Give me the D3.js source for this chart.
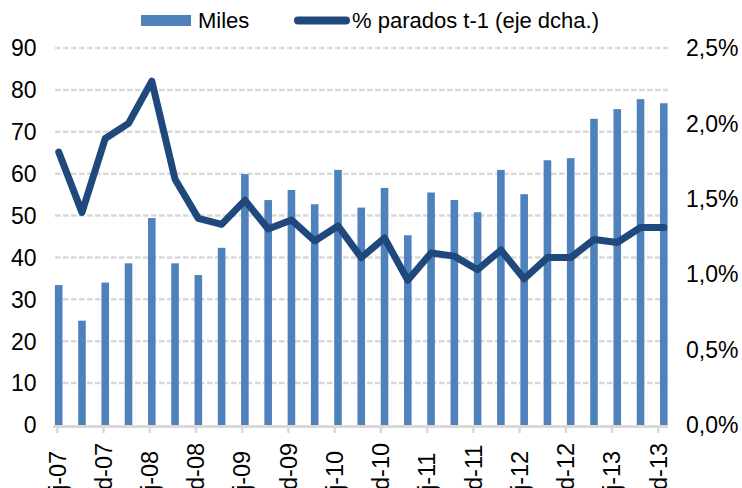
<!DOCTYPE html>
<html>
<head>
<meta charset="utf-8">
<script src="https://cdn.jsdelivr.net/npm/d3@7"></script>
<style>
  body { margin: 0; background: #fff; }
  svg text { font-family: "Liberation Sans", Arial, sans-serif; fill: #000; }
</style>
</head>
<body>
<div id="chart"></div>
<script>
var width = 742,
    height = 488;

// quarters, jun-07 .. dic-13
var quarters = ["jun-07", "sep-07", "dic-07", "mar-08", "jun-08", "sep-08", "dic-08",
    "mar-09", "jun-09", "sep-09", "dic-09", "mar-10", "jun-10", "sep-10", "dic-10",
    "mar-11", "jun-11", "sep-11", "dic-11", "mar-12", "jun-12", "sep-12", "dic-12",
    "mar-13", "jun-13", "sep-13", "dic-13"];

var miles = [33.4, 24.9, 34.0, 38.6, 49.4, 38.6, 35.8, 42.3, 59.9, 53.7, 56.1, 52.7,
    60.9, 51.9, 56.6, 45.3, 55.5, 53.7, 50.8, 60.9, 55.1, 63.2, 63.7, 73.1, 75.4, 77.8, 76.8];

// % parados t-1 (eje dcha.)
var parados = [1.81, 1.41, 1.90, 2.00, 2.28, 1.63, 1.37, 1.33, 1.49, 1.30, 1.36, 1.22,
    1.32, 1.11, 1.24, 0.96, 1.14, 1.12, 1.03, 1.16, 0.97, 1.11, 1.11, 1.23, 1.21, 1.31, 1.31];

var tickLabels = ["j-07", "d-07", "j-08", "d-08", "j-09", "d-09", "j-10", "d-10",
    "j-11", "d-11", "j-12", "d-12", "j-13", "d-13"];

var leftTicks = [0, 10, 20, 30, 40, 50, 60, 70, 80, 90];
var rightTicks = [0, 0.5, 1, 1.5, 2, 2.5];

var barColor = "#4f81bd",
    lineColor = "#1f497d",
    gridColor = "#d9d9d9";

var svg = d3.select("#chart").append("svg")
    .attr("width", width)
    .attr("height", height);

var x = d3.scalePoint().domain(quarters).range([58.7, 663.8]);
var xTick = d3.scalePoint().domain(tickLabels).range([57.3, 658.3]);
var y = d3.scaleLinear().domain([0, 90]).range([425, 48]);
var y2 = d3.scaleLinear().domain([0, 2.5]).range([425, 48]);

var es = d3.formatLocale({decimal: ",", thousands: ".", grouping: [3], currency: ["", " €"]});
var pct = es.format(".1f");

// gridlines
svg.append("g")
    .selectAll("line")
    .data(leftTicks.slice(1))
    .enter().append("line")
    .attr("x1", 55)
    .attr("x2", 668)
    .attr("y1", function(d) { return y(d); })
    .attr("y2", function(d) { return y(d); })
    .attr("stroke", gridColor)
    .attr("stroke-width", 2.5)
    .attr("stroke-dasharray", "5.5,2.5");

// bars
svg.append("g")
    .selectAll("rect")
    .data(miles)
    .enter().append("rect")
    .attr("x", function(d, i) { return x(quarters[i]) - 3.8; })
    .attr("width", 7.6)
    .attr("y", function(d) { return y(d); })
    .attr("height", function(d) { return y(0) - y(d); })
    .attr("fill", barColor);

// x axis line + ticks
svg.append("line")
    .attr("x1", 53).attr("x2", 668)
    .attr("y1", 426.5).attr("y2", 426.5)
    .attr("stroke", gridColor)
    .attr("stroke-width", 3);

svg.append("g")
    .selectAll("line")
    .data(tickLabels)
    .enter().append("line")
    .attr("x1", function(d) { return xTick(d); })
    .attr("x2", function(d) { return xTick(d); })
    .attr("y1", 426)
    .attr("y2", 433)
    .attr("stroke", gridColor)
    .attr("stroke-width", 2.5);

svg.append("g")
    .selectAll("text")
    .data(tickLabels)
    .enter().append("text")
    .attr("transform", function(d) { return "translate(" + xTick(d) + ",490) rotate(-90)"; })
    .attr("dy", "0.35em")
    .attr("text-anchor", "start")
    .style("font-size", "23.5px")
    .text(function(d) { return d; });

// line
var line = d3.line()
    .x(function(d, i) { return x(quarters[i]); })
    .y(function(d) { return y2(d); });

svg.append("path")
    .datum(parados)
    .attr("d", line)
    .attr("fill", "none")
    .attr("stroke", lineColor)
    .attr("stroke-width", 7)
    .attr("stroke-linejoin", "round")
    .attr("stroke-linecap", "round");

// left axis labels
svg.append("g")
    .selectAll("text")
    .data(leftTicks)
    .enter().append("text")
    .attr("x", 36.5)
    .attr("y", function(d) { return y(d); })
    .attr("dy", "0.36em")
    .attr("text-anchor", "end")
    .style("font-size", "23px")
    .text(function(d) { return d; });

// right axis labels
svg.append("g")
    .selectAll("text")
    .data(rightTicks)
    .enter().append("text")
    .attr("x", 686)
    .attr("y", function(d) { return y2(d); })
    .attr("dy", "0.36em")
    .attr("text-anchor", "start")
    .style("font-size", "23px")
    .text(function(d) { return pct(d) + "%"; });

// legend
var legend = svg.append("g");
legend.append("rect")
    .attr("x", 141).attr("y", 15)
    .attr("width", 50).attr("height", 11)
    .attr("fill", barColor);
legend.append("text")
    .attr("x", 198).attr("y", 28)
    .style("font-size", "22px")
    .text("Miles");
legend.append("line")
    .attr("x1", 298).attr("x2", 346)
    .attr("y1", 20.5).attr("y2", 20.5)
    .attr("stroke", lineColor)
    .attr("stroke-width", 8)
    .attr("stroke-linecap", "round");
legend.append("text")
    .attr("x", 352).attr("y", 28)
    .style("font-size", "22px")
    .text("% parados t-1 (eje dcha.)");
</script>
</body>
</html>
